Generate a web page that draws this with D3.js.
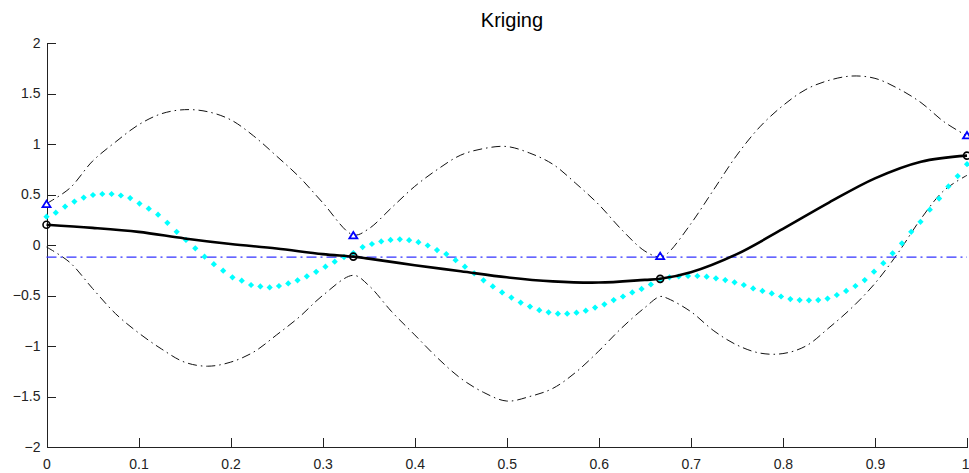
<!DOCTYPE html>
<html>
<head>
<meta charset="utf-8">
<script src="https://cdn.jsdelivr.net/npm/d3@7"></script>
<style>
  body { margin: 0; background: #fff; }
  svg { display: block; font-family: "Liberation Sans", Arial, sans-serif; }
</style>
</head>
<body>
<svg width="969" height="473"></svg>
<script>
// sample sites and values
const sampleX = [0, 1 / 3, 2 / 3, 1];
const sampleFit = [0.2, -0.115, -0.335, 0.885];
const sampleObs = [0.40, 0.09, -0.115, 1.08];
const meanLevel = -0.12;

// kriging predictor
const fitX = [0, 0.05, 0.1, 0.15, 0.2, 0.25, 0.3, 1 / 3, 0.35, 0.4, 0.45, 0.5, 0.55, 0.6, 0.65, 2 / 3, 0.7, 0.75, 0.8, 0.85, 0.9, 0.95, 1];
const fitY = [0.2, 0.17, 0.13, 0.065, 0.01, -0.035, -0.09, -0.115, -0.135, -0.2, -0.26, -0.32, -0.36, -0.372, -0.345, -0.335, -0.27, -0.09, 0.16, 0.42, 0.66, 0.825, 0.885];

// confidence band
const bandX = [0, 0.025, 0.05, 0.075, 0.1, 0.125, 0.15, 0.175, 0.2, 0.225, 0.25, 0.275, 0.3, 1 / 3,
  0.35, 0.375, 0.4, 0.425, 0.45, 0.475, 0.5, 0.525, 0.55, 0.575, 0.6, 0.625, 0.65, 2 / 3,
  0.675, 0.7, 0.725, 0.75, 0.775, 0.8, 0.825, 0.85, 0.875, 0.9, 0.925, 0.95, 0.975, 1];
const upperY = [0.41, 0.56, 0.83, 1.02, 1.19, 1.3, 1.34, 1.32, 1.24, 1.08, 0.88, 0.67, 0.42, 0.1,
  0.16, 0.37, 0.58, 0.75, 0.89, 0.955, 0.975, 0.91, 0.8, 0.61, 0.4, 0.15, -0.06, -0.12,
  -0.08, 0.21, 0.55, 0.89, 1.17, 1.38, 1.54, 1.63, 1.673, 1.65, 1.55, 1.41, 1.22, 1.08];
const lowerY = [-0.02, -0.17, -0.43, -0.68, -0.87, -1.03, -1.16, -1.2, -1.16, -1.06, -0.89, -0.71, -0.5, -0.3,
  -0.4, -0.66, -0.89, -1.12, -1.32, -1.46, -1.545, -1.5, -1.42, -1.26, -1.05, -0.82, -0.62, -0.51,
  -0.53, -0.66, -0.85, -0.99, -1.07, -1.075, -1.0, -0.82, -0.62, -0.38, -0.08, 0.26, 0.54, 0.69];

// true function, 100 points on [0, 1]
const trueY = [0.28, 0.32, 0.38, 0.43, 0.47, 0.495, 0.505, 0.505, 0.49, 0.465,
  0.41, 0.36, 0.3, 0.22, 0.13, 0.05, -0.033, -0.116, -0.19, -0.254,
  -0.32, -0.353, -0.396, -0.41, -0.42, -0.406, -0.38, -0.35, -0.31, -0.265,
  -0.215, -0.165, -0.12, -0.08, -0.02, 0.01, 0.035, 0.05, 0.056, 0.048,
  0.028, -0.005, -0.05, -0.09, -0.15, -0.215, -0.28, -0.35, -0.41, -0.47,
  -0.52, -0.57, -0.61, -0.645, -0.667, -0.68, -0.68, -0.67, -0.65, -0.62,
  -0.587, -0.545, -0.51, -0.47, -0.435, -0.39, -0.35, -0.32, -0.312, -0.307,
  -0.307, -0.314, -0.33, -0.347, -0.37, -0.396, -0.43, -0.455, -0.48, -0.51,
  -0.535, -0.545, -0.548, -0.545, -0.53, -0.495, -0.455, -0.406, -0.347, -0.264,
  -0.18, -0.082, 0.017, 0.13, 0.23, 0.35, 0.46, 0.58, 0.683, 0.8];

const xTicks = [0, 0.1, 0.2, 0.3, 0.4, 0.5, 0.6, 0.7, 0.8, 0.9, 1];
const yTicks = [-2, -1.5, -1, -0.5, 0, 0.5, 1, 1.5, 2];

const svg = d3.select("svg");
const plotLeft = 46.5, plotRight = 967, plotTop = 43, plotBottom = 447;

const x = d3.scaleLinear().domain([0, 1]).range([plotLeft, plotRight]);
const y = d3.scaleLinear().domain([-2, 2]).range([plotBottom, plotTop]);

const tickFmt = d => d3.format("")(d);

svg.append("text")
    .attr("x", 512)
    .attr("y", 27)
    .attr("text-anchor", "middle")
    .style("font-size", "20px")
    .style("fill", "#000")
    .text("Kriging");

const xAxis = svg.append("g")
    .attr("transform", `translate(0,${plotBottom})`)
    .call(d3.axisBottom(x).tickValues(xTicks).tickFormat(tickFmt).tickSizeInner(-9).tickSizeOuter(0).tickPadding(12));
const yAxis = svg.append("g")
    .attr("transform", `translate(${plotLeft},0)`)
    .call(d3.axisLeft(y).tickValues(yTicks).tickFormat(tickFmt).tickSizeInner(-9).tickSizeOuter(0).tickPadding(6));

[xAxis, yAxis].forEach(a => {
    a.selectAll("path,line").attr("stroke", "#222").attr("stroke-width", 1).attr("shape-rendering", "crispEdges");
    a.selectAll("text").style("font-size", "14px").attr("fill", "#222").attr("font-family", "Liberation Sans, Arial, sans-serif");
});
// keep the last x label inside the window
xAxis.selectAll(".tick").filter(d => d === 1).select("text")
    .attr("text-anchor", "end").attr("x", 2);

const plot = svg.append("g");
const curve = d3.curveCatmullRom.alpha(0.5);

const bandLine = d3.line().curve(curve).x((d, i) => x(bandX[i])).y(d => y(d));
[upperY, lowerY].forEach(series => {
    plot.append("path")
        .datum(series)
        .attr("fill", "none")
        .attr("stroke", "#111")
        .attr("stroke-width", 1)
        .attr("stroke-dasharray", "9,4,1.5,4")
        .attr("d", bandLine);
});

plot.append("line")
    .attr("x1", x(0)).attr("x2", x(1))
    .attr("y1", y(meanLevel)).attr("y2", y(meanLevel))
    .attr("stroke", "#3333ff")
    .attr("stroke-width", 1.2)
    .attr("stroke-dasharray", "10,4,2,4");

plot.append("g")
    .selectAll("rect")
    .data(trueY)
    .join("rect")
    .attr("x", -2.2)
    .attr("y", -2.2)
    .attr("width", 4.4)
    .attr("height", 4.4)
    .attr("fill", "#00ffff")
    .attr("transform", (d, i) => `translate(${x(i / 99)},${y(d)}) rotate(45)`);

plot.append("path")
    .datum(fitY)
    .attr("fill", "none")
    .attr("stroke", "#000")
    .attr("stroke-width", 2.6)
    .attr("d", d3.line().curve(curve).x((d, i) => x(fitX[i])).y(d => y(d)));

plot.append("g")
    .selectAll("circle")
    .data(sampleFit)
    .join("circle")
    .attr("cx", (d, i) => x(sampleX[i]))
    .attr("cy", d => y(d))
    .attr("r", 3.5)
    .attr("fill", "none")
    .attr("stroke", "#000")
    .attr("stroke-width", 1.6);

const tri = "M0,-4L4,2.5L-4,2.5Z";
plot.append("g")
    .selectAll("path")
    .data(sampleObs)
    .join("path")
    .attr("d", tri)
    .attr("transform", (d, i) => `translate(${x(sampleX[i])},${y(d)})`)
    .attr("fill", "#fff")
    .attr("stroke", "#0000ff")
    .attr("stroke-width", 1.8);
</script>
</body>
</html>
